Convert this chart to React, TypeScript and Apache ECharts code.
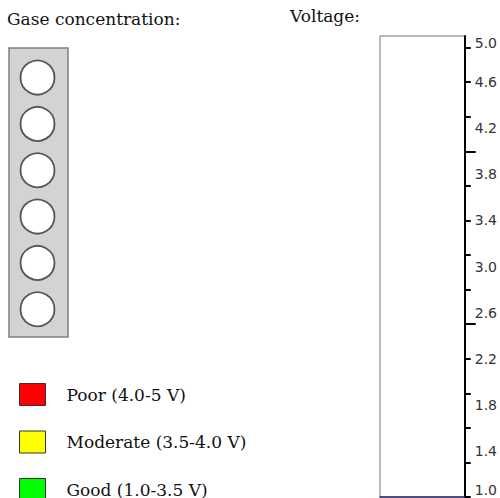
import React, { useEffect, useRef } from "react";
import * as echarts from "echarts";

// ---- data ----
const voltageCategory = ["Voltage"];
const voltageReading = [1.0];
const voltageMin = 1.0;
const voltageMax = 5.0;
const voltageLabels = [1.0, 1.4, 1.8, 2.2, 2.6, 3.0, 3.4, 3.8, 4.2, 4.6, 5.0];
const voltageTicks = [1.0, 1.3, 1.6, 1.9, 2.2, 2.5, 2.8, 3.1, 3.4, 3.7, 4.0, 4.3, 4.6, 4.9];
const thresholdTicks = [2.5, 4.0];
const zoneNames = ["Poor (4.0-5 V)", "Moderate (3.5-4.0 V)", "Good (1.0-3.5 V)"];
const zoneColors = ["#ff0000", "#ffff00", "#00ff00"];
const sensorSlots = ["1", "2", "3", "4", "5", "6"];
const gasColumn = ["gas"];

export default function App() {
  const ref = useRef<HTMLDivElement>(null);
  useEffect(() => {
    if (!ref.current) return;
    const chart = echarts.init(ref.current, null, { renderer: "svg" });
    const serif = "DejaVu Serif";
    const sans = "DejaVu Sans";
    const option: any = {
      animation: false,
      backgroundColor: "#ffffff",
      title: [
        {
          text: "Gase concentration:",
          left: 7,
          top: 10,
          padding: 0,
          textStyle: { fontFamily: serif, fontSize: 17, fontWeight: "normal", color: "#111" },
        },
        {
          text: "Voltage:",
          left: 290,
          top: 7,
          padding: 0,
          textStyle: { fontFamily: serif, fontSize: 17, fontWeight: "normal", color: "#111" },
        },
      ],
      graphic: [
        {
          type: "rect",
          z: 0,
          shape: { x: 9, y: 48, width: 59, height: 289 },
          style: { fill: "#d3d3d3", stroke: "#808080", lineWidth: 1.5 },
        },
      ],
      legend: {
        orient: "vertical",
        left: 19,
        top: 383,
        height: 140,
        padding: 0,
        icon: "rect",
        itemWidth: 26,
        itemHeight: 22,
        itemGap: 24.5,
        selectedMode: false,
        data: zoneNames,
        itemStyle: { borderColor: "#333", borderWidth: 1 },
        textStyle: {
          fontFamily: serif,
          fontSize: 17,
          color: "#111",
          padding: [3, 0, 0, 16],
        },
      },
      grid: [
        {
          left: 380,
          right: 35,
          top: 36,
          bottom: 1,
          show: true,
          borderColor: "#777",
          borderWidth: 1,
          backgroundColor: "#fff",
        },
        { left: 9, width: 57, top: 54.4, height: 278 },
      ],
      xAxis: [
        {
          gridIndex: 0,
          type: "category",
          data: voltageCategory,
          axisLine: { show: true, lineStyle: { color: "#2b2b6e", width: 1.5 } },
          axisTick: { show: false },
          axisLabel: { show: false },
        },
        {
          gridIndex: 1,
          type: "category",
          data: gasColumn,
          show: false,
        },
      ],
      yAxis: [
        {
          gridIndex: 0,
          type: "value",
          position: "right",
          min: voltageMin,
          max: voltageMax,
          splitLine: { show: false },
          axisLine: { show: true, lineStyle: { color: "#000", width: 2 } },
          axisTick: {
            show: true,
            customValues: voltageTicks,
            length: 6,
            lineStyle: { color: "#000", width: 2 },
          },
          axisLabel: {
            customValues: voltageLabels,
            margin: 10,
            fontFamily: sans,
            fontSize: 14,
            color: "#333",
            formatter: (v: number) => v.toFixed(1),
            verticalAlignMinLabel: "bottom",
            verticalAlignMaxLabel: "top",
          },
        },
        {
          gridIndex: 0,
          type: "value",
          position: "right",
          min: voltageMin,
          max: voltageMax,
          splitLine: { show: false },
          axisLine: { show: false },
          axisLabel: { show: false },
          axisTick: {
            show: true,
            customValues: thresholdTicks,
            length: 11,
            lineStyle: { color: "#000", width: 2 },
          },
        },
        {
          gridIndex: 1,
          type: "category",
          data: sensorSlots,
          inverse: true,
          show: false,
        },
      ],
      series: [
        {
          name: "Voltage",
          type: "bar",
          xAxisIndex: 0,
          yAxisIndex: 0,
          barWidth: "100%",
          data: voltageReading,
          itemStyle: { color: zoneColors[2] },
          clip: true,
        },
        ...zoneNames.map((n, i) => ({
          name: n,
          type: "bar",
          xAxisIndex: 0,
          yAxisIndex: 0,
          data: [],
          itemStyle: { color: zoneColors[i] },
        })),
        {
          name: "Gas",
          type: "scatter",
          xAxisIndex: 1,
          yAxisIndex: 2,
          z: 5,
          symbol: "circle",
          symbolSize: 34,
          itemStyle: { color: "#ffffff", opacity: 1, borderColor: "#555", borderWidth: 1.8 },
          data: sensorSlots.map((s) => [gasColumn[0], s]),
        },
      ],
    };
    chart.setOption(option);
    return () => chart.dispose();
  }, []);
  return (
    <div
      ref={ref}
      style={{ position: "absolute", left: 0, top: 0, width: 500, height: 498 }}
    />
  );
}
